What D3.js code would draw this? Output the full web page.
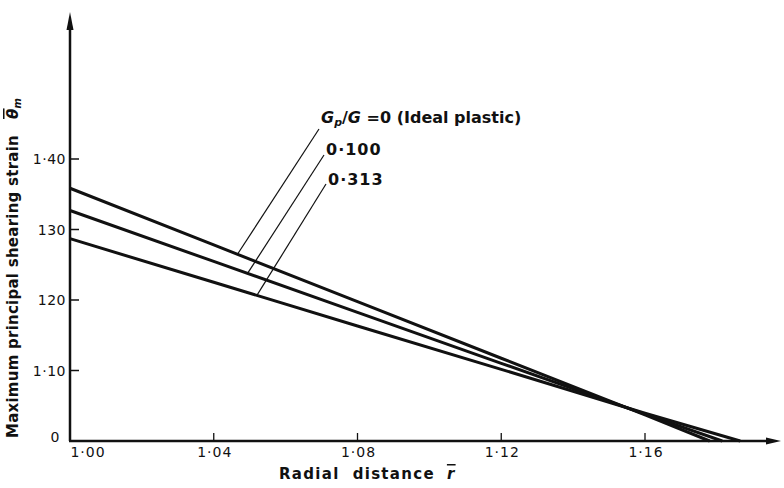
<!DOCTYPE html>
<html lang="en">
  <head>
    <meta charset="UTF-8" />
    <title>Maximum principal shearing strain vs radial distance</title>
    <script src="https://d3js.org/d3.v7.min.js" charset="utf-8"></script>
    <style>
      body { margin: 0; background: #fff; }
      text { font-family: "DejaVu Sans", sans-serif; fill: #111; }
    </style>
  </head>
  <body>
    <svg class="chart"></svg>
    <script>
      // radial distance r and strain values for each Gp/G curve
      let rIdeal = [1.00, 1.04, 1.08, 1.12, 1.16, 1.178];
      let thIdeal = [1.3585, 1.2781, 1.1977, 1.1174, 1.0370, 1.0];
      let r100 = [1.00, 1.04, 1.08, 1.12, 1.16, 1.1815];
      let th100 = [1.327, 1.2547, 1.1825, 1.1102, 1.0380, 1.0];
      let r313 = [1.00, 1.04, 1.08, 1.12, 1.16, 1.1865];
      let th313 = [1.287, 1.2251, 1.1631, 1.1016, 1.0393, 1.0];

      let xTicks = [1.00, 1.04, 1.08, 1.12, 1.16];
      let xTickLabels = ["1·00", "1·04", "1·08", "1·12", "1·16"];
      let yTicks = [1.0, 1.1, 1.2, 1.3, 1.4];
      let yTickLabels = ["0", "1·10", "120", "130", "1·40"];

      // where each leader line touches its curve
      let leaderR = [1.0466, 1.0494, 1.052];

      let width = 784;
      let height = 488;

      let svg = d3.select(".chart").attr("width", width).attr("height", height);

      let x = d3.scaleLinear().domain([1.0, 1.16]).range([70, 645]);
      let y = d3.scaleLinear().domain([1.0, 1.4]).range([441, 159]);

      let series = [
        { r: rIdeal, th: thIdeal },
        { r: r100, th: th100 },
        { r: r313, th: th313 }
      ];

      let line = d3
        .line()
        .x(function(d) { return x(d[0]); })
        .y(function(d) { return y(d[1]); });

      // axes: plain lines with arrow heads
      svg.append("line")
        .attr("x1", x(1.0)).attr("y1", y(1.0))
        .attr("x2", x(1.0)).attr("y2", 22)
        .attr("stroke", "#111").attr("stroke-width", 2.5);
      svg.append("line")
        .attr("x1", x(1.0) - 1).attr("y1", y(1.0))
        .attr("x2", 770).attr("y2", y(1.0))
        .attr("stroke", "#111").attr("stroke-width", 2.5);

      svg.append("path")
        .attr("d", "M" + x(1.0) + ",12 L" + (x(1.0) + 3.5) + ",30 L" + (x(1.0) - 3.5) + ",30 Z")
        .attr("fill", "#111");
      svg.append("path")
        .attr("d", "M781," + y(1.0) + " L766," + (y(1.0) - 3.5) + " L766," + (y(1.0) + 3.5) + " Z")
        .attr("fill", "#111");

      // ticks
      svg.selectAll(".xtick")
        .data(xTicks.slice(1))
        .enter()
        .append("line")
        .attr("x1", function(d) { return x(d); })
        .attr("x2", function(d) { return x(d); })
        .attr("y1", y(1.0))
        .attr("y2", y(1.0) - 8)
        .attr("stroke", "#111")
        .attr("stroke-width", 1.3);

      svg.selectAll(".ytick")
        .data(yTicks.slice(1))
        .enter()
        .append("line")
        .attr("x1", x(1.0))
        .attr("x2", x(1.0) + 9)
        .attr("y1", function(d) { return y(d); })
        .attr("y2", function(d) { return y(d); })
        .attr("stroke", "#111")
        .attr("stroke-width", 1.5);

      svg.selectAll(".xlabel")
        .data(xTicks)
        .enter()
        .append("text")
        .attr("x", function(d, i) { return i == 0 ? x(d) + 18 : x(d) + 1; })
        .attr("y", 457)
        .attr("text-anchor", "middle")
        .style("font-size", "14px")
        .style("letter-spacing", "1px")
        .text(function(d, i) { return xTickLabels[i]; });

      svg.selectAll(".ylabel")
        .data(yTicks)
        .enter()
        .append("text")
        .attr("x", function(d, i) { return i == 0 ? x(1.0) - 10 : x(1.0) - 4; })
        .attr("y", function(d, i) { return i == 0 ? y(d) + 1 : y(d) + 5; })
        .attr("text-anchor", "end")
        .style("font-size", "14px")
        .style("letter-spacing", "0.5px")
        .text(function(d, i) { return yTickLabels[i]; });

      // curves
      svg.selectAll(".curve")
        .data(series)
        .enter()
        .append("path")
        .attr("d", function(s) { return line(d3.zip(s.r, s.th)); })
        .attr("fill", "none")
        .attr("stroke", "#111")
        .attr("stroke-width", 3);

      // leader lines to the labels
      let labelTops = [[319, 129], [324, 155], [326, 184]];
      leaderR.forEach(function(rv, i) {
        let s = series[i];
        let thv = d3.scaleLinear().domain(s.r).range(s.th)(rv);
        svg.append("line")
          .attr("x1", x(rv)).attr("y1", y(thv))
          .attr("x2", labelTops[i][0]).attr("y2", labelTops[i][1])
          .attr("stroke", "#111")
          .attr("stroke-width", 1.2);
      });

      let legend = svg.append("text")
        .attr("x", 321)
        .attr("y", 123)
        .attr("xml:space", "preserve")
        .style("font-size", "16px")
        .style("font-weight", "bold");
      legend.append("tspan").style("font-style", "italic").text("G");
      legend.append("tspan").style("font-style", "italic").style("font-size", "11px").attr("dy", 3).text("p");
      legend.append("tspan").attr("dy", -3).text("/");
      legend.append("tspan").style("font-style", "italic").text("G");
      legend.append("tspan").text(" =0 (Ideal plastic)");

      svg.append("text").attr("x", 326).attr("y", 155)
        .style("font-size", "16px").style("font-weight", "bold")
        .style("letter-spacing", "1px").text("0·100");
      svg.append("text").attr("x", 328).attr("y", 185)
        .style("font-size", "16px").style("font-weight", "bold")
        .style("letter-spacing", "1px").text("0·313");

      // axis titles
      let xt = svg.append("text")
        .attr("x", 279)
        .attr("y", 479)
        .attr("xml:space", "preserve")
        .style("font-size", "15px")
        .style("font-weight", "bold")
        .style("letter-spacing", "1.3px");
      xt.append("tspan").text("Radial  distance");
      xt.append("tspan").attr("dx", 12).style("font-style", "italic").style("text-decoration", "overline").text("r");

      let yt = svg.append("text")
        .attr("transform", "translate(18,438) rotate(-90)")
        .attr("xml:space", "preserve")
        .style("font-size", "15px")
        .style("font-weight", "bold")
        .style("letter-spacing", "0.25px");
      yt.append("tspan").text("Maximum principal shearing strain");
      yt.append("tspan").attr("dx", 16).style("font-style", "italic").style("text-decoration", "overline").text("θ");
      yt.append("tspan").style("font-style", "italic").style("font-size", "10px").attr("dy", 3).text("m");
    </script>
  </body>
</html>
